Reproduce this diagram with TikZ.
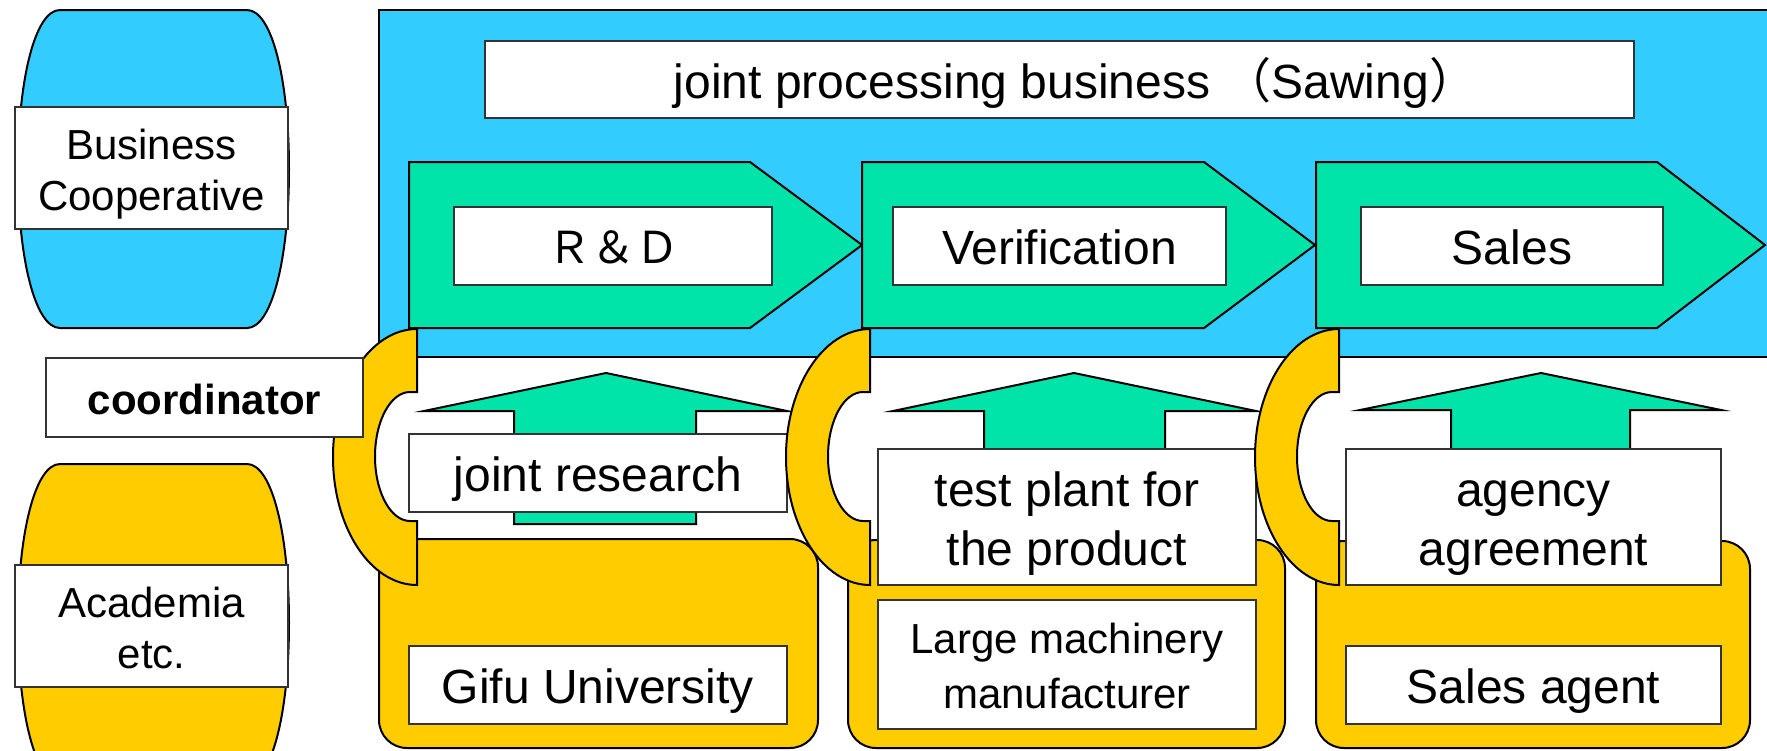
\documentclass[tikz,border=0pt]{standalone}
\usepackage{fontspec}
\setmainfont{Liberation Sans}
\newfontfamily\cjk{Noto Sans CJK JP}
\definecolor{cblue}{RGB}{51,204,255}
\definecolor{cgreen}{RGB}{0,228,170}
\definecolor{cyellow}{RGB}{255,204,0}
\newcommand\ppstrut{\rule[-0.212em]{0pt}{1.212em}}
% name, x1, y1, x2, y2, style, text
\newcommand\labelbox[7]{%
  \node[lbl,#6,minimum width={#4pt-#2pt},minimum height={#5pt-#3pt}] (#1)
    at ({(#2+#4)/2},{(#3+#5)/2}) {#7};}
% bracket with right edge x
\newcommand\cbracket[1]{%
  \path[shp,fill=cyellow] (#1,329)
    arc[start angle=270,end angle=90,x radius=84,y radius=128]
    -- (#1,521) -- ({#1-7},521)
    arc[start angle=90,end angle=270,x radius=35,y radius=64.5]
    -- (#1,392) -- cycle;}
\begin{document}
\begin{tikzpicture}[x=1pt,y=-1pt,
  shp/.style={draw=black,line width=2pt,line join=miter},
  lbl/.style={draw=black!80,fill=white,line width=1.6pt,inner sep=0pt,align=center,text=black},
  big/.style={font=\fontsize{48}{59}\selectfont},
  small/.style={font=\fontsize{42}{51}\selectfont},
  smallwide/.style={font=\fontsize{42}{55}\selectfont},
  boldsmall/.style={font=\fontsize{42}{51}\selectfont\bfseries}]
\useasboundingbox (0,0) rectangle (1767,750);
\clip (0,0) rectangle (1767,750);
\fill[white] (0,0) rectangle (1767,750);

% blue business area
\path[shp,fill=cblue] (379,10) rectangle (1790,357);
\labelbox{title}{485}{41}{1634}{118}{big}{\kern32pt\ppstrut joint processing business {\cjk （}Sawing{\cjk ）}}

% process pentagons
\path[shp,fill=cgreen] (409,162) -- (750,162) -- (862,245) -- (750,328) -- (409,328) -- cycle;
\path[shp,fill=cgreen] (862,162) -- (1204,162) -- (1315,245) -- (1204,328) -- (862,328) -- cycle;
\path[shp,fill=cgreen] (1316,162) -- (1657,162) -- (1765,245) -- (1657,328) -- (1316,328) -- cycle;
\labelbox{rd}{454}{207}{772}{285}{font=\cjk\fontsize{44}{53}\selectfont}{\raisebox{-3pt}{\ppstrut Ｒ＆Ｄ}}
\labelbox{ver}{893}{207}{1226}{285}{big}{\ppstrut Verification}
\labelbox{sales}{1361}{207}{1663}{285}{big}{\ppstrut Sales}

% yellow partner areas
\path[shp,fill=cyellow,rounded corners=28pt] (379,539) rectangle (818,748);
\path[shp,fill=cyellow,rounded corners=28pt] (848,540) rectangle (1285,748);
\path[shp,fill=cyellow,rounded corners=28pt] (1316,541) rectangle (1750,748);

% upward block arrows
\path[shp,fill=cgreen] (514,524) -- (514,411) -- (424,411) -- (606,373) -- (787,411) -- (696,411) -- (696,524) -- cycle;
\path[shp,fill=cgreen] (984,524) -- (984,411) -- (893,411) -- (1074,373) -- (1256,411) -- (1165,411) -- (1165,524) -- cycle;
\path[shp,fill=cgreen] (1451,524) -- (1451,410) -- (1360,410) -- (1541,373) -- (1721,410) -- (1630,410) -- (1630,524) -- cycle;

\labelbox{jr}{409}{434}{787}{512}{big}{\ppstrut joint research}
\labelbox{gifu}{409}{646}{787}{724}{big}{\ppstrut Gifu University}
\labelbox{test}{878}{449}{1256}{585}{big}{\ppstrut test plant for\\\ppstrut the product}
\labelbox{large}{878}{600}{1256}{729}{smallwide}{\ppstrut Large machinery\\\ppstrut manufacturer}
\labelbox{agency}{1346}{449}{1721}{585}{big}{\ppstrut agency\\\ppstrut agreement}
\labelbox{agent}{1346}{646}{1721}{724}{big}{\ppstrut Sales agent}

% coordinator brackets
\cbracket{417}
\cbracket{870}
\cbracket{1339}
\labelbox{coord}{46}{358}{363}{437}{boldsmall}{\ppstrut coordinator}

% left barrels
\path[shp,fill=cblue] (60,10) -- (247,10) .. controls (272,10) and (289,80) .. (289,169)
  .. controls (289,258) and (272,328) .. (247,328) -- (60,328)
  .. controls (35,328) and (18,258) .. (18,169) .. controls (18,80) and (35,10) .. (60,10) -- cycle;
\labelbox{bc}{15}{107}{288}{229}{small}{\ppstrut Business\\\ppstrut Cooperative}
\begin{scope}[shift={(0,454)}]
\path[shp,fill=cyellow] (60,10) -- (247,10) .. controls (272,10) and (289,80) .. (289,169)
  .. controls (289,258) and (272,328) .. (247,328) -- (60,328)
  .. controls (35,328) and (18,258) .. (18,169) .. controls (18,80) and (35,10) .. (60,10) -- cycle;
\end{scope}
\labelbox{acad}{15}{565}{288}{687}{small}{\ppstrut Academia\\\ppstrut etc.}
\end{tikzpicture}
\end{document}
